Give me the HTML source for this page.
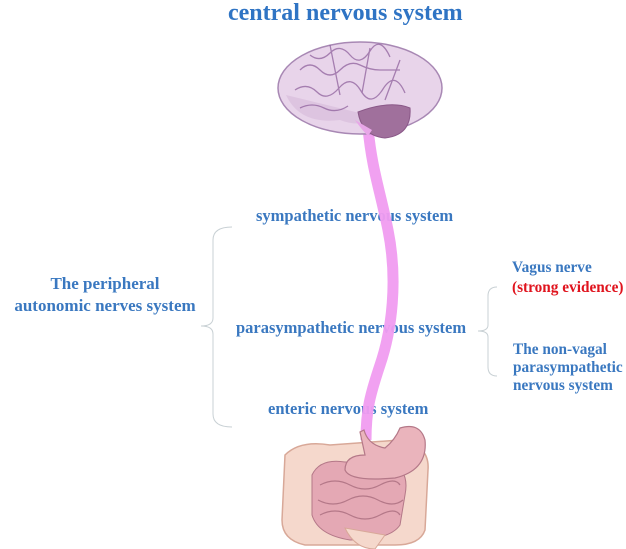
<!DOCTYPE html>
<html><head><meta charset="utf-8"><style>
body{margin:0;background:#fff;}
.w{position:relative;width:626px;height:549px;overflow:hidden;font-family:"Liberation Serif",serif;font-weight:bold;color:#3a78c0;}
.t{position:absolute;white-space:nowrap;}
svg{position:absolute;left:0;top:0;}
</style></head><body><div class="w">
<div class="t" style="left:228px;top:0;font-size:24px;color:#2f74c4;">central nervous system</div>
<div class="t" style="left:256px;top:206px;font-size:16.5px;">sympathetic nervous system</div>
<div class="t" style="left:236px;top:318px;font-size:16.5px;">parasympathetic nervous system</div>
<div class="t" style="left:268px;top:399px;font-size:16.5px;">enteric nervous system</div>
<div class="t" style="left:0;width:210px;text-align:center;top:273px;font-size:17px;line-height:22px;">The peripheral<br>autonomic nerves system</div>
<div class="t" style="left:512px;top:258px;font-size:15.3px;line-height:20px;">Vagus nerve<br><span style="color:#e0141e">(strong evidence)</span></div>
<div class="t" style="left:513px;top:341px;font-size:15.3px;line-height:18px;">The non-vagal<br>parasympathetic<br>nervous system</div>
<svg width="626" height="549">
<path d="M232,227 Q213,227 213,240 L213,318 Q213,326 201,326 Q213,326 213,334 L213,414 Q213,427 232,427" fill="none" stroke="#c8d0d4" stroke-width="1"/>
<path d="M497,287 Q488,287 488,296 L488,325 Q488,331 478,331 Q488,331 488,337 L488,367 Q488,376 497,376" fill="none" stroke="#c8d0d4" stroke-width="1"/>
<path d="M368,128 C372,170 380,190 388,230 C398,280 392,330 380,365 C370,395 366,410 366,440" fill="none" stroke="#f09cf0" stroke-width="11" opacity="0.95"/>
<ellipse cx="360" cy="88" rx="82" ry="46" fill="#e8d4ea" stroke="#a888b4" stroke-width="1.5"/>
<path d="M286,95 Q300,125 340,120 Q360,128 380,118" fill="#ddc4e0"/>
<path d="M358,112 Q390,100 410,108 Q412,135 385,138 Q362,136 358,112Z" fill="#a0709c" stroke="#8a5888"/>
<path d="M355,120 Q362,130 368,136 L372,130Z" fill="#e8a6e8"/>
<g fill="none" stroke="#8a5a98" stroke-width="1.3" opacity="0.7">
<path d="M300,70 q10,-10 20,0 t20,0 t20,-5 t20,5 t20,0"/>
<path d="M295,90 q12,-8 22,2 t22,-4 t22,3 t22,-2 t22,4"/>
<path d="M310,55 q10,8 20,-2 t20,2 t20,-4 t20,6"/>
<path d="M300,108 q12,-6 24,0 t24,-2"/>
<path d="M330,45 l10,50 M370,48 l-8,45 M400,60 l-15,40"/>
</g>
<path d="M285,455 Q300,440 330,445 L400,440 Q430,445 428,470 L425,530 Q420,545 395,545 L305,545 Q282,540 282,520Z" fill="#f5d8cc" stroke="#d8a898" stroke-width="1.5"/>
<path d="M312,475 Q320,458 345,462 L390,462 Q410,470 405,495 L400,525 Q390,540 350,540 Q318,535 312,515Z" fill="#e4a8b4" stroke="#b47888" stroke-width="1"/>
<g fill="none" stroke="#b47888" stroke-width="1.2">
<path d="M320,485 q15,-8 30,0 t30,0 t20,0"/><path d="M318,500 q15,8 30,0 t30,0 t25,0"/><path d="M320,515 q15,-8 30,0 t30,0 t20,0"/>
</g>
<path d="M364,430 Q368,445 385,448 Q395,440 400,428 Q420,422 425,440 Q428,470 395,478 Q350,482 345,470 Q345,455 365,455 L360,432Z" fill="#eab4bc" stroke="#b47888" stroke-width="1.2"/>
<path d="M345,528 Q355,549 375,549 L385,535Z" fill="#f5d8cc" stroke="#d8a898"/>
</svg>
</div></body></html>
